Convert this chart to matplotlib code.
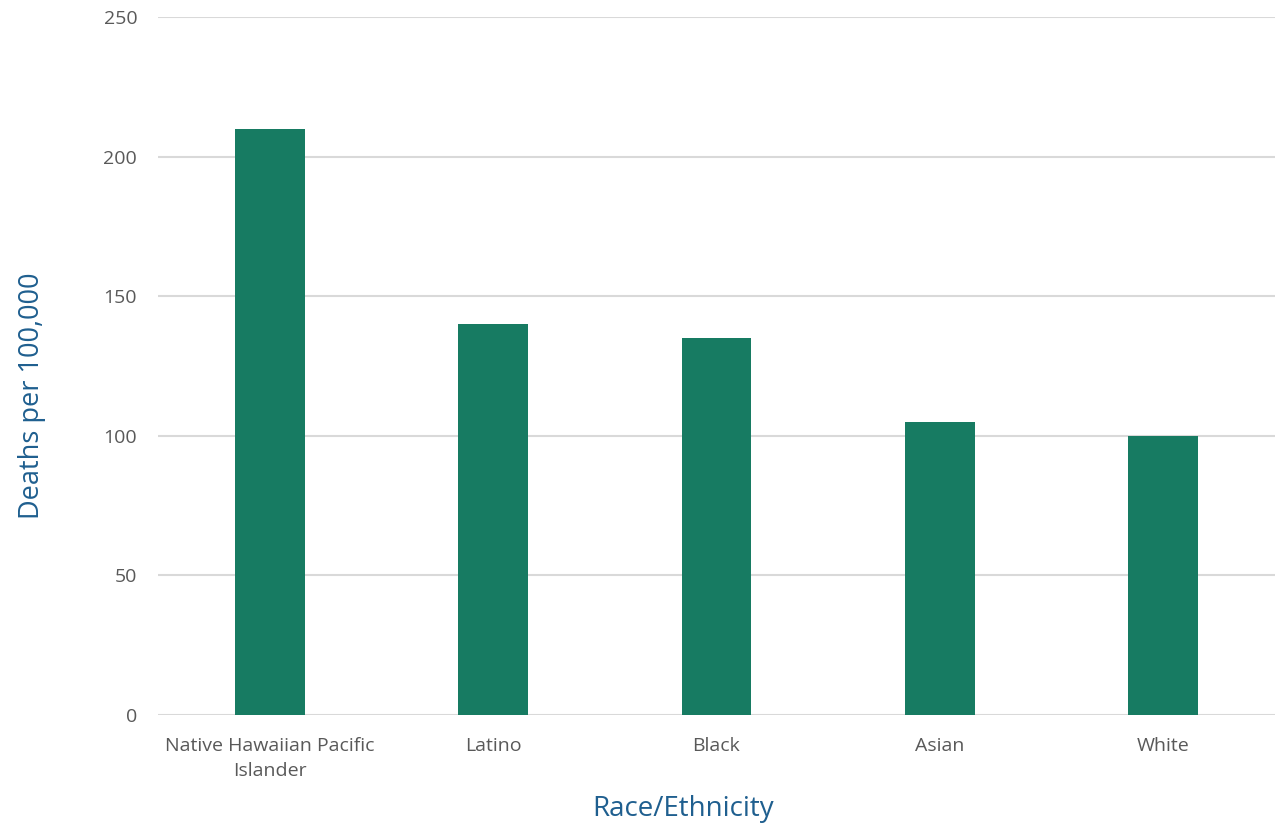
import matplotlib
matplotlib.use("Agg")
import matplotlib.pyplot as plt

categories = ["Native Hawaiian Pacific\nIslander", "Latino", "Black", "Asian", "White"]
deaths = [210, 140, 135, 105, 100]
yticks = [0, 50, 100, 150, 200, 250]

plt.rcParams['font.family'] = ['Open Sans', 'DejaVu Sans']

fig = plt.figure(figsize=(12.84, 8.26), dpi=100)
ax = fig.add_axes([158/1284, 111/826, 1117/1284, 698/826])

x = list(range(len(categories)))
ax.bar(x, deaths, width=0.313, color="#177B62", zorder=3)

ax.set_ylim(0, 250)
ax.set_xlim(-0.5, 4.5)
ax.set_yticks(yticks)
ax.set_xticks(x)
ax.set_xticklabels(categories, linespacing=1.45)
ax.yaxis.grid(True, color="#D9D9D9", linewidth=1.5, zorder=0)
for s in ax.spines.values():
    s.set_visible(False)
ax.tick_params(axis='both', length=0, labelsize=14, colors="#595959")
ax.tick_params(axis='y', pad=15)
ax.tick_params(axis='x', pad=16)

ax.set_ylabel("Deaths per 100,000", fontsize=19.5, color="#1F5F8F", va='center')
ax.yaxis.set_label_coords(-0.113, 0.458)
ax.set_xlabel("Race/Ethnicity", fontsize=20, color="#1F5F8F", va='baseline')
ax.xaxis.set_label_coords(0.47, -0.1447)

fig.savefig("out.png", dpi=100, facecolor="white")
